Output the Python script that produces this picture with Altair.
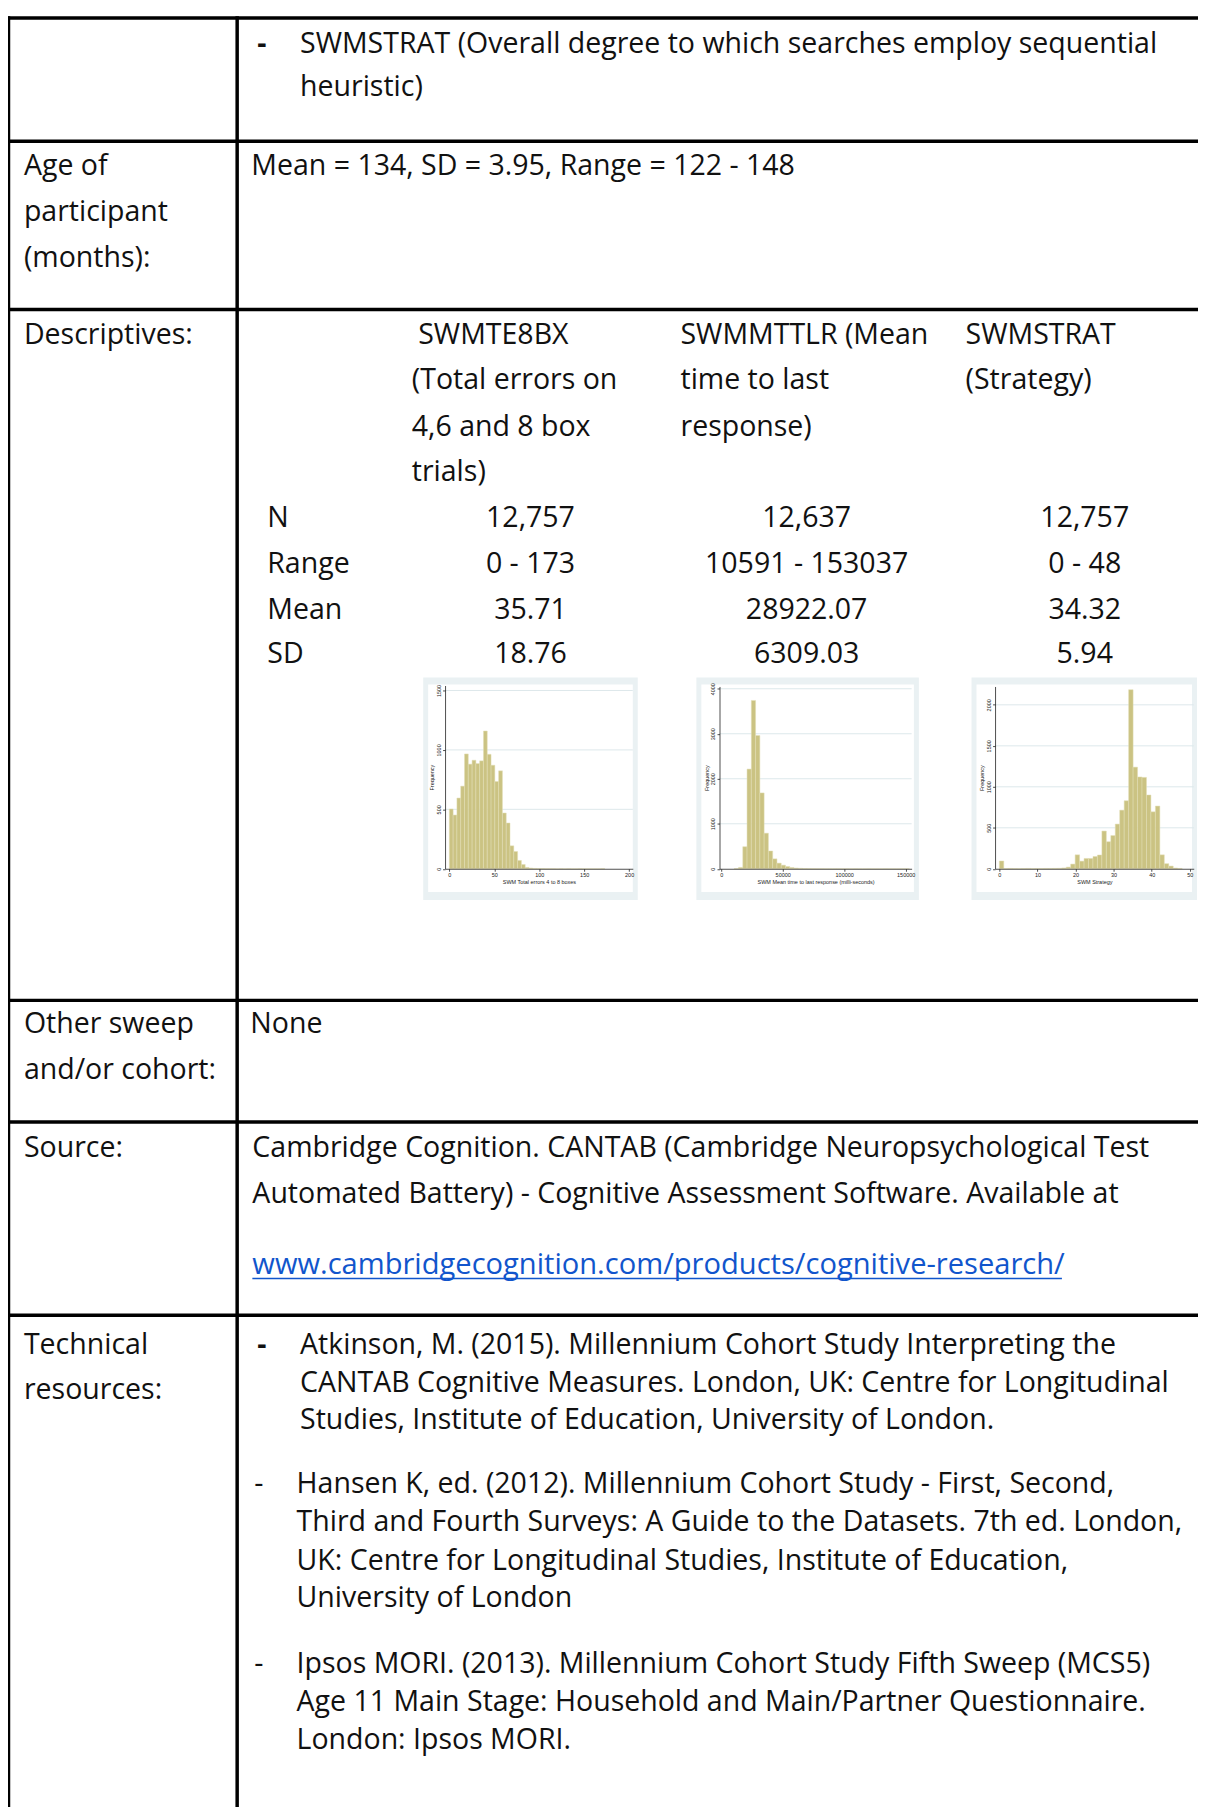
import altair as alt
import pandas as pd

# ---------------- text content ----------------
ROW1_LINES = ["SWMSTRAT (Overall degree to which searches employ sequential", "heuristic)"]
AGE_LABEL = ["Age of", "participant", "(months):"]
AGE_TEXT = ["Mean = 134, SD = 3.95, Range = 122 - 148"]
DESC_LABEL = ["Descriptives:"]
VAR_HEADERS = [
    ["SWMTE8BX", "(Total errors on", "4,6 and 8 box", "trials)"],
    ["SWMMTTLR (Mean", "time to last", "response)"],
    ["SWMSTRAT", "(Strategy)"],
]
STAT_NAMES = ["N", "Range", "Mean", "SD"]
STAT_VALUES = [
    ["12,757", "0 - 173", "35.71", "18.76"],
    ["12,637", "10591 - 153037", "28922.07", "6309.03"],
    ["12,757", "0 - 48", "34.32", "5.94"],
]
OTHER_LABEL = ["Other sweep", "and/or cohort:"]
OTHER_TEXT = ["None"]
SOURCE_LABEL = ["Source:"]
SOURCE_LINES = [
    "Cambridge Cognition. CANTAB (Cambridge Neuropsychological Test",
    "Automated Battery) - Cognitive Assessment Software. Available at",
]
SOURCE_LINK = "www.cambridgecognition.com/products/cognitive-research/"
TECH_LABEL = ["Technical", "resources:"]
TECH_REFS = [
    ["Atkinson, M. (2015). Millennium Cohort Study Interpreting the",
     "CANTAB Cognitive Measures. London, UK: Centre for Longitudinal",
     "Studies, Institute of Education, University of London."],
    ["Hansen K, ed. (2012). Millennium Cohort Study - First, Second,",
     "Third and Fourth Surveys: A Guide to the Datasets. 7th ed. London,",
     "UK: Centre for Longitudinal Studies, Institute of Education,",
     "University of London"],
    ["Ipsos MORI. (2013). Millennium Cohort Study Fifth Sweep (MCS5)",
     "Age 11 Main Stage: Household and Main/Partner Questionnaire.",
     "London: Ipsos MORI."],
]

# ---------------- histogram data ----------------
H1_TITLE = "SWM Total errors 4 to 8 boxes"
H1_RANGE = [0, 173]
H1_COUNTS = [503, 452, 595, 695, 966, 880, 913, 885, 908, 1159, 963, 871, 734, 824,
             469, 385, 193, 145, 70, 36, 11, 6, 3, 2, 2, 1, 1, 1, 0, 1, 0, 1, 0, 0,
             1, 0, 0, 0, 0, 0, 1]
H1_XTICKS = [0, 50, 100, 150, 200]
H1_YTICKS = [0, 500, 1000, 1500]

H2_TITLE = "SWM Mean time to last response (milli-seconds)"
H2_RANGE = [10591, 153037]
H2_COUNTS = [5, 30, 490, 2215, 3740, 2960, 1685, 790, 395, 220, 125, 80, 50, 28, 16,
             10, 6, 4, 3, 2, 2, 1, 1, 1, 1, 0, 1, 0, 1, 0, 0, 1, 0, 0, 0, 1, 0, 0,
             0, 0, 1]
H2_XTICKS = [0, 50000, 100000, 150000]
H2_YTICKS = [0, 1000, 2000, 3000, 4000]

H3_TITLE = "SWM Strategy"
H3_RANGE = [0, 48]
H3_COUNTS = [95, 3, 4, 3, 2, 3, 4, 2, 3, 3, 4, 4, 5, 6, 10, 20, 57, 170, 93, 126, 126,
             150, 168, 460, 330, 405, 545, 715, 830, 2185, 1240, 1120, 1115, 900, 695,
             765, 170, 62, 33, 9, 4]
H3_XTICKS = [0, 10, 20, 30, 40, 50]
H3_YTICKS = [0, 500, 1000, 1500, 2000]

# ---------------- layout / style ----------------
OFF = 8            # page margin
W, H = 1198, 1799  # canvas
FONT = "Open Sans"
FS = 28.7
INK = "#111111"
LINK = "#1155cc"
AX_FONT = "Liberation Sans"
AX_INK = "#222222"
BAR_FILL = "#cbc383"
BAR_EDGE = "#e3dfb6"
FRAME_BG = "#eaf1f3"
GRID = "#dde8eb"

layers = []


def text(s, x, y, align="left", color=INK, size=FS, weight="normal"):
    layers.append(
        alt.Chart().mark_text(font=FONT, fontSize=size, color=color, align=align,
                              baseline="alphabetic", fontWeight=weight)
        .encode(x=alt.value(x - OFF), y=alt.value(y - OFF), text=alt.value(s))
    )


def hrule(y, x1, x2, color="#000000", w=3.5):
    layers.append(
        alt.Chart().mark_rule(color=color, strokeWidth=w)
        .encode(x=alt.value(x1 - OFF), x2=alt.value(x2 - OFF), y=alt.value(y - OFF))
    )


def vrule(x, y1, y2, color="#000000", w=3.5):
    layers.append(
        alt.Chart().mark_rule(color=color, strokeWidth=w)
        .encode(x=alt.value(x - OFF), y=alt.value(y1 - OFF), y2=alt.value(y2 - OFF))
    )


# table grid lines
for yy in [12, 136, 305.5, 1001, 1123.5, 1318]:
    hrule(yy, 7, 1215)
for xx in [8.5, 238.7]:
    vrule(xx, 10.3, 1815)

# row 1
text("-", 259, 47, weight="bold")
for line, yy in zip(ROW1_LINES, [47, 91]):
    text(line, 302, yy)

# row 2
for line, yy in zip(AGE_LABEL, [170, 216.5, 263]):
    text(line, 24, yy)
text(AGE_TEXT[0], 253, 170)

# row 3
text(DESC_LABEL[0], 24, 340)
head_x = [[421, 414.5, 414.5, 414.5], [685, 685, 685], [972, 972]]
head_y = [340, 386, 433, 478]
for col, xs in zip(VAR_HEADERS, head_x):
    for line, xx, yy in zip(col, xs, head_y):
        text(line, xx, yy)
stat_y = [524.5, 570.5, 617, 661.5]
for name, yy in zip(STAT_NAMES, stat_y):
    text(name, 269, yy)
for col, cx in zip(STAT_VALUES, [534, 812, 1092]):
    for v, yy in zip(col, stat_y):
        text(v, cx, yy, align="center")

# row 4
for line, yy in zip(OTHER_LABEL, [1034, 1080]):
    text(line, 24, yy)
text(OTHER_TEXT[0], 252, 1034)

# row 5
text(SOURCE_LABEL[0], 24, 1158.5)
for line, yy in zip(SOURCE_LINES, [1158.5, 1204.5]):
    text(line, 254, yy)
text(SOURCE_LINK, 254, 1276, color=LINK, size=29.3)
hrule(1281, 254, 1069, color=LINK, w=1.5)

# row 6
for line, yy in zip(TECH_LABEL, [1357, 1402]):
    text(line, 24, yy)
ref_dash_x = [259, 256, 256]
ref_dash_w = ["bold", "normal", "normal"]
ref_text_x = [302, 298.5, 298.5]
ref_y = [[1357, 1395, 1433], [1497, 1535, 1574, 1612], [1678, 1716, 1755]]
for ref, dx, dw, tx, ys in zip(TECH_REFS, ref_dash_x, ref_dash_w, ref_text_x, ref_y):
    text("-", dx, ys[0], weight=dw)
    for line, yy in zip(ref, ys):
        text(line, tx, yy)


# ---------------- histograms ----------------
def histogram(counts, rng, xticks, yticks, title, frame, xpix, xdom, ypix, ydom):
    n = len(counts)
    width = (rng[1] - rng[0]) / n
    df = pd.DataFrame({
        "start": [rng[0] + k * width for k in range(n)],
        "end": [rng[0] + (k + 1) * width for k in range(n)],
        "count": counts,
    })
    gdf = pd.DataFrame({"count": yticks[1:]})
    xs = alt.Scale(domain=xdom, range=[xpix[0] - OFF, xpix[1] - OFF], nice=False, zero=False)
    ys = alt.Scale(domain=ydom, range=[ypix[0] - OFF, ypix[1] - OFF], nice=False, zero=False)
    common = dict(grid=False, zindex=2, domainColor=AX_INK, domainWidth=0.8, tickColor=AX_INK,
                  tickWidth=0.8, tickSize=2.5, labelFont=AX_FONT, labelFontSize=5.5,
                  labelColor=AX_INK, labelOverlap=False, labelFlush=False, format="d",
                  titleFont=AX_FONT, titleFontSize=5.5, titleFontWeight="normal",
                  titleColor=AX_INK, minExtent=0, maxExtent=200)
    xaxis = alt.Axis(values=xticks, title=title, orient="bottom",
                     offset=(ypix[0] - OFF) - H, labelPadding=1.5, titlePadding=1.5, **common)
    yaxis = alt.Axis(values=yticks, title="Frequency", orient="left",
                     offset=-(xpix[0] - OFF), labelAngle=270, labelAlign="center",
                     labelBaseline="bottom", labelPadding=1.5, titlePadding=1.5, **common)
    fx0, fy0, fx1, fy1 = frame
    outer = alt.Chart().mark_rect(color=FRAME_BG).encode(
        x=alt.value(fx0 - OFF), x2=alt.value(fx1 - OFF),
        y=alt.value(fy0 - OFF), y2=alt.value(fy1 - OFF))
    inner = alt.Chart().mark_rect(color="#ffffff").encode(
        x=alt.value(fx0 + 5 - OFF), x2=alt.value(fx1 - 5 - OFF),
        y=alt.value(fy0 + 7 - OFF), y2=alt.value(fy1 - 8 - OFF))
    grid = alt.Chart(gdf).mark_rule(color=GRID, strokeWidth=1).encode(
        y=alt.Y("count:Q", scale=ys, axis=yaxis),
        x=alt.value(xpix[0] - OFF), x2=alt.value(xpix[1] - OFF))
    bars = alt.Chart(df).mark_rect(color=BAR_FILL, stroke=BAR_EDGE, strokeWidth=0.5).encode(
        x=alt.X("start:Q", scale=xs, axis=xaxis),
        x2="end:Q",
        y=alt.Y("count:Q", scale=ys, axis=yaxis),
        y2=alt.datum(0),
    )
    return alt.layer(outer, inner, grid, bars)


h1 = histogram(H1_COUNTS, H1_RANGE, H1_XTICKS, H1_YTICKS, H1_TITLE,
               (426, 676, 642, 900), (448, 637), [-4.75, 204.1], (868.5, 684), [0, 1542])
h2 = histogram(H2_COUNTS, H2_RANGE, H2_XTICKS, H2_YTICKS, H2_TITLE,
               (701, 676, 925, 900), (724.3, 917.7), [-1373, 154846], (868.5, 685), [0, 4050])
h3 = histogram(H3_COUNTS, H3_RANGE, H3_XTICKS, H3_YTICKS, H3_TITLE,
               (978, 676, 1205, 900), (1001.7, 1201.7), [-1.12, 51.04], (868.5, 685), [0, 2224])

chart = (
    alt.layer(*layers, h1, h2, h3)
    .resolve_scale(x="independent", y="independent")
    .resolve_axis(x="independent", y="independent")
    .properties(width=W, height=H, padding=0,
                autosize=alt.AutoSizeParams(type="none"), background="#ffffff")
    .configure_view(strokeWidth=0)
)

chart.save("out.html", embed_options={"renderer": "svg", "actions": False})
